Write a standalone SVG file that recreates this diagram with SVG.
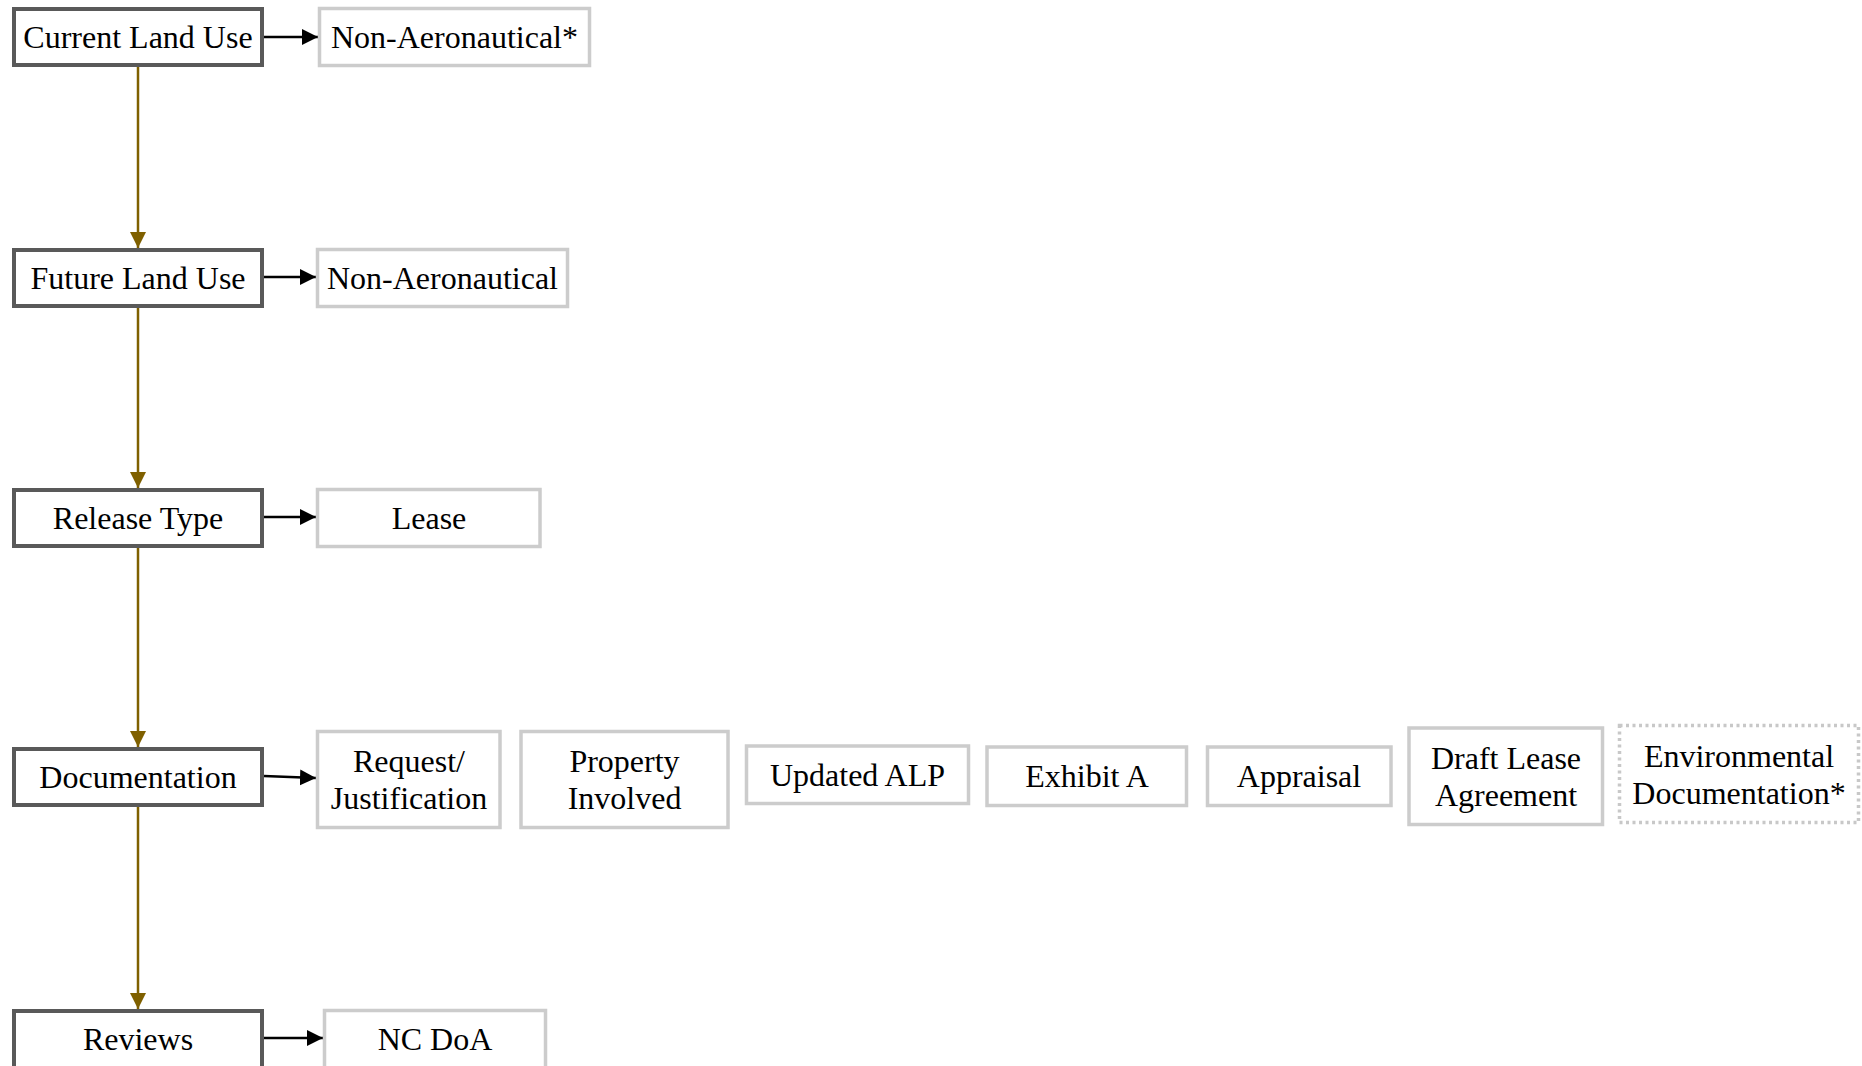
<svg xmlns="http://www.w3.org/2000/svg" width="1862" height="1066" viewBox="0 0 1862 1066">
<defs>
<marker id="ah-brown" markerUnits="userSpaceOnUse" markerWidth="17" markerHeight="17" refX="16" refY="8" orient="auto"><path d="M0,0 L16,8 L0,16 z" fill="#7f6000"/></marker>
<marker id="ah-black" markerUnits="userSpaceOnUse" markerWidth="17" markerHeight="17" refX="16" refY="8" orient="auto"><path d="M0,0 L16,8 L0,16 z" fill="#000"/></marker>
</defs>
<style>
.main{fill:#fff;stroke:#595959;stroke-width:4}
.sub{fill:#fff;stroke:#cccccc;stroke-width:3.5}
.dot{fill:#fff;stroke:#c8c8c8;stroke-width:3.5;stroke-dasharray:3 3.5}
text{font-family:"Liberation Serif","Times New Roman",serif;font-size:32px;fill:#000;text-anchor:middle}
.v{stroke:#7f6000;stroke-width:2.5;fill:none}
.h{stroke:#000;stroke-width:2.5;fill:none}
</style>
<rect width="1862" height="1066" fill="#fff"/>
<g id="connectors">
<line class="v" x1="138" y1="67" x2="138" y2="248" marker-end="url(#ah-brown)"/>
<line class="v" x1="138" y1="308" x2="138" y2="488" marker-end="url(#ah-brown)"/>
<line class="v" x1="138" y1="548" x2="138" y2="747" marker-end="url(#ah-brown)"/>
<line class="v" x1="138" y1="807" x2="138" y2="1009" marker-end="url(#ah-brown)"/>
<line class="h" x1="264" y1="37" x2="318" y2="37" marker-end="url(#ah-black)"/>
<line class="h" x1="264" y1="277" x2="316" y2="277" marker-end="url(#ah-black)"/>
<line class="h" x1="264" y1="517" x2="316" y2="517" marker-end="url(#ah-black)"/>
<line class="h" x1="264" y1="776" x2="316" y2="778" marker-end="url(#ah-black)"/>
<line class="h" x1="264" y1="1038" x2="323" y2="1038" marker-end="url(#ah-black)"/>
</g>
<g id="current-land-use"><rect class="main" x="14" y="9" width="248" height="56"/><text x="138" y="48">Current Land Use</text></g>
<g id="future-land-use"><rect class="main" x="14" y="250" width="248" height="56"/><text x="138" y="289">Future Land Use</text></g>
<g id="release-type"><rect class="main" x="14" y="490" width="248" height="56"/><text x="138" y="529">Release Type</text></g>
<g id="documentation"><rect class="main" x="14" y="749" width="248" height="56"/><text x="138" y="788">Documentation</text></g>
<g id="reviews"><rect class="main" x="14" y="1011" width="248" height="60"/><text x="138" y="1050">Reviews</text></g>
<g id="non-aero-current"><rect class="sub" x="319.5" y="8.5" width="270" height="57"/><text x="454.5" y="48">Non-Aeronautical*</text></g>
<g id="non-aero-future"><rect class="sub" x="317.5" y="249.5" width="250" height="57"/><text x="442.5" y="289">Non-Aeronautical</text></g>
<g id="lease"><rect class="sub" x="317.5" y="489.5" width="222.5" height="57"/><text x="429" y="529">Lease</text></g>
<g id="request"><rect class="sub" x="317.5" y="731.5" width="182.5" height="96"/><text x="409" y="772">Request/</text><text x="409" y="809">Justification</text></g>
<g id="property"><rect class="sub" x="521" y="731.5" width="207" height="96"/><text x="624.5" y="772">Property</text><text x="624.5" y="809">Involved</text></g>
<g id="updated-alp"><rect class="sub" x="746.5" y="746" width="222" height="57.5"/><text x="857.5" y="786">Updated ALP</text></g>
<g id="exhibit-a"><rect class="sub" x="987" y="747" width="199.5" height="58.5"/><text x="1087" y="787">Exhibit A</text></g>
<g id="appraisal"><rect class="sub" x="1207.5" y="747" width="183.5" height="58.5"/><text x="1299" y="787">Appraisal</text></g>
<g id="draft-lease"><rect class="sub" x="1409" y="728" width="193.5" height="96.5"/><text x="1506" y="769">Draft Lease</text><text x="1506" y="806">Agreement</text></g>
<g id="environmental"><rect class="dot" x="1619.5" y="725.5" width="239" height="97"/><text x="1739" y="766.5">Environmental</text><text x="1739" y="803.5">Documentation*</text></g>
<g id="nc-doa"><rect class="sub" x="324.5" y="1010.5" width="221" height="60"/><text x="435" y="1050">NC DoA</text></g>
</svg>
